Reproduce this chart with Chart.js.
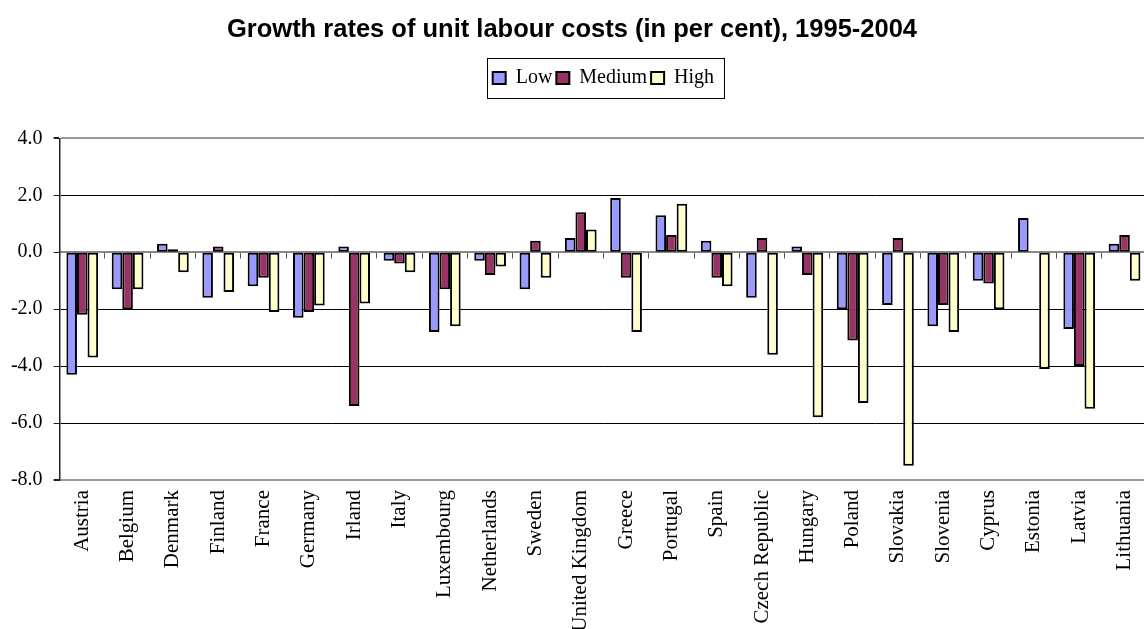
<!DOCTYPE html>
<html>
<head>
<meta charset="utf-8">
<script src="https://cdn.jsdelivr.net/npm/chart.js@4.4.1/dist/chart.umd.min.js"></script>
<style>
	html, body { margin: 0; padding: 0; background: #fff; overflow: hidden; }
	#wrap { width: 1160px; height: 629px; }
</style>
</head>
<body>
<div id="wrap"><canvas id="ulc-chart" width="1160" height="629"></canvas></div>
<script>
const countries = [ "Austria", "Belgium", "Denmark", "Finland", "France", "Germany", "Irland", "Italy",
	"Luxembourg", "Netherlands", "Sweden", "United Kingdom", "Greece", "Portugal", "Spain", "Czech Republic",
	"Hungary", "Poland", "Slovakia", "Slovenia", "Cyprus", "Estonia", "Latvia", "Lithuania" ];

const lowValues    = [ -4.3, -1.3, 0.3, -1.6, -1.2, -2.3, 0.2, -0.3, -2.8, -0.3, -1.3, 0.5, 1.9, 1.3, 0.4, -1.6, 0.2, -2.0, -1.85, -2.6, -1.0, 1.2, -2.7, 0.3 ];
const mediumValues = [ -2.2, -2.0, 0.1, 0.2, -0.9, -2.1, -5.4, -0.4, -1.3, -0.8, 0.4, 1.4, -0.9, 0.6, -0.9, 0.5, -0.8, -3.1, 0.5, -1.85, -1.1, null, -4.0, 0.6 ];
const highValues   = [ -3.7, -1.3, -0.7, -1.4, -2.1, -1.87, -1.8, -0.7, -2.6, -0.5, -0.9, 0.8, -2.8, 1.7, -1.2, -3.6, -5.8, -5.3, -7.5, -2.8, -2.0, -4.1, -5.5, -1.0 ];

const yTicks = [ 4, 2, 0, -2, -4, -6, -8 ];

const serif = "'Liberation Serif', 'Times New Roman', serif";

function barDataset(label, data, color)
{
	return { label, data, backgroundColor: color, borderColor: "#000", borderWidth: 2, borderSkipped: false, xAxisID: "x" };
}

// box round the legend, like the old spreadsheet one
const legendFrame =
{
	id: "legendFrame",
	afterDraw(chart)
	{
		const boxes = chart.legend && chart.legend.legendHitBoxes;
		if(!boxes || !boxes.length) return;

		const left = Math.min(...boxes.map(b => b.left));
		const right = Math.max(...boxes.map(b => b.left + b.width));
		const top = Math.min(...boxes.map(b => b.top));
		const bottom = Math.max(...boxes.map(b => b.top + b.height));

		const ctx = chart.ctx;
		ctx.save();
		ctx.strokeStyle = "#000";
		ctx.lineWidth = 1;
		ctx.strokeRect(Math.round(left - 6) + 0.5, Math.round(top - 10) + 0.5, Math.round(right - left + 16), Math.round(bottom - top + 20));
		ctx.restore();
	}
};

new Chart(document.getElementById("ulc-chart"),
{
	type: "bar",
	data:
	{
		labels: countries,
		datasets:
		[
			barDataset("Low", lowValues, "#9999FF"),
			barDataset("Medium", mediumValues, "#993366"),
			barDataset("High", highValues, "#FFFFCC")
		]
	},
	plugins: [ legendFrame ],
	options:
	{
		responsive: false,
		animation: false,
		devicePixelRatio: 1,
		// negative left padding so the title centres on the visible page
		layout: { padding: { left: -14, right: 2, top: 0, bottom: 0 } },
		datasets: { bar: { barPercentage: 1, categoryPercentage: 0.7 } },
		plugins:
		{
			title:
			{
				display: true,
				text: "Growth rates of unit labour costs (in per cent), 1995-2004",
				color: "#000",
				font: { family: "'Liberation Sans', Arial, sans-serif", size: 25.5, weight: "bold" },
				padding: { top: 15, bottom: 18.5 }
			},
			legend:
			{
				display: true,
				position: "top",
				fullSize: false,
				labels:
				{
					color: "#000",
					font: { family: serif, size: 20 },
					boxWidth: 13,
					boxHeight: 12,
					padding: 4
				}
			},
			subtitle:
			{
				// spacer between the legend and the plot
				display: true,
				text: "",
				weight: 500,
				font: { size: 1 },
				padding: { top: 0, bottom: 39 }
			},
			tooltip: { enabled: false }
		},
		scales:
		{
			x:
			{
				type: "category",
				position: "bottom",
				offset: true,
				grid: { display: false, drawTicks: false, offset: true },
				border: { display: false },
				ticks:
				{
					color: "#000",
					font: { family: serif, size: 21 },
					minRotation: 90,
					maxRotation: 90,
					autoSkip: false,
					padding: 10
				},
				afterFit(scale) { scale.height = 149; }
			},
			x2:
			{
				type: "category",
				axis: "x",
				position: { y: 0 },
				offset: true,
				grid: { display: true, drawOnChartArea: false, offset: true, tickLength: 6, tickColor: "#555", color: "#555" },
				border: { display: true, color: "#888", width: 1.5 },
				ticks: { display: false }
			},
			y:
			{
				min: -8,
				max: 4,
				afterBuildTicks(scale) { scale.ticks = yTicks.map(value => ({ value })); },
				grid:
				{
					color: ctx => (ctx.tick && (ctx.tick.value === 4 || ctx.tick.value === -8)) ? "#999" : (ctx.tick && ctx.tick.value === 0 ? "#888" : "#000"),
					lineWidth: ctx => (ctx.tick && (ctx.tick.value === 4 || ctx.tick.value === -8)) ? 2 : 1,
					tickColor: "#222",
					tickLength: 6
				},
				border: { display: true, color: "#222", width: 1.5 },
				ticks:
				{
					color: "#000",
					font: { family: serif, size: 20 },
					padding: 11,
					callback: value => Number(value).toFixed(1)
				},
				afterFit(scale) { scale.width = 73.6; }
			}
		}
	}
});
</script>
</body>
</html>
